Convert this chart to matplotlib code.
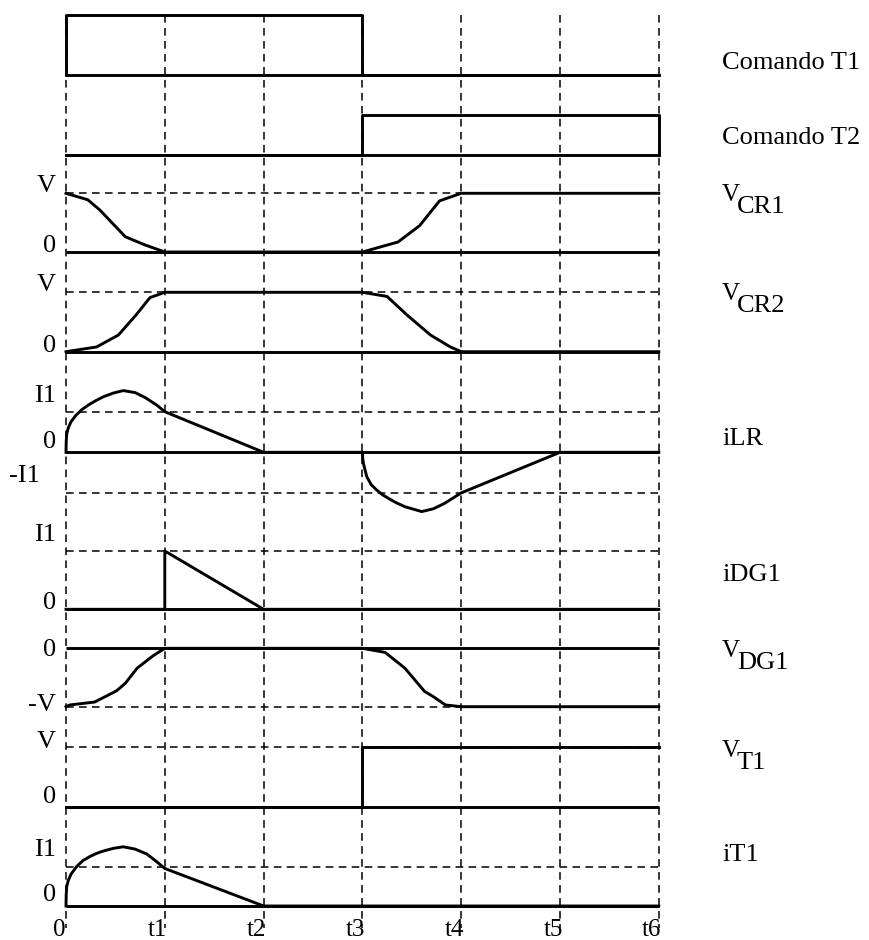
import numpy as np
import matplotlib.pyplot as plt

plt.rcParams['font.family'] = ['Liberation Serif', 'DejaVu Serif']

# time axis
t_ticks = [0, 1, 2, 3, 4, 5, 6]
t_labels = ['0', 't1', 't2', 't3', 't4', 't5', 't6']

# waveforms, normalised (1 = V or I1)
cmd1_t = [0, 0, 3, 3, 6]
cmd1_v = [0, 1, 1, 0, 0]

cmd2_t = [0, 3, 3, 6, 6]
cmd2_v = [0, 0, 1, 1, 0]

vcr1_t = [0, 0.22, 0.34, 0.6, 0.8, 1.0, 3.0, 3.36, 3.58, 3.78, 3.88, 4.0, 6.0]
vcr1_v = [1, 0.89, 0.72, 0.26, 0.12, 0, 0, 0.17, 0.45, 0.87, 0.93, 1, 1]

vcr2_t = [0, 0.31, 0.53, 0.71, 0.83, 0.85, 1.0, 3.0, 3.25, 3.45, 3.69, 3.89, 4.0, 6.0]
vcr2_v = [0, 0.08, 0.28, 0.62, 0.87, 0.91, 1, 1, 0.93, 0.62, 0.28, 0.08, 0, 0]

ilr_t = [0, 0.002, 0.007, 0.023, 0.05, 0.1, 0.16, 0.23, 0.3, 0.38, 0.48, 0.58,
         0.7, 0.8, 0.92, 1.0, 2.0, 3.0,
         3.003, 3.01, 3.044, 3.09, 3.145, 3.2, 3.26, 3.34, 3.43, 3.6, 3.72, 3.83, 4.0, 5.0, 6.0]
ilr_v = [0, 0.25, 0.45, 0.6, 0.75, 0.91, 1.05, 1.17, 1.27, 1.37, 1.46, 1.52,
         1.47, 1.35, 1.16, 1.0, 0, 0,
         -0.14, -0.27, -0.6, -0.8, -0.93, -1.04, -1.13, -1.24, -1.34, -1.46, -1.39, -1.26, -1.0, 0, 0]

idg1_t = [0, 1, 1, 2, 6]
idg1_v = [0, 0, 1, 0, 0]

vdg1_t = [0, 0.04, 0.29, 0.51, 0.6, 0.72, 0.88, 1.0, 3.0, 3.23, 3.43, 3.63, 3.72, 3.84, 4.0, 6.0]
vdg1_v = [-1, -0.97, -0.92, -0.73, -0.6, -0.34, -0.13, 0, 0, -0.07, -0.34, -0.74, -0.83, -0.97, -1, -1]

vt1_t = [0, 3, 3, 6]
vt1_v = [0, 0, 1, 1]

it1_t = [0, 0.002, 0.007, 0.023, 0.05, 0.108, 0.17, 0.243, 0.31, 0.377, 0.48, 0.58,
         0.7, 0.82, 0.92, 1.0, 2.0, 6.0]
it1_v = [0, 0.28, 0.5, 0.66, 0.82, 1.02, 1.17, 1.28, 1.36, 1.42, 1.49, 1.53,
         1.47, 1.34, 1.14, 0.97, 0, 0]

# (t, v, dashed reference levels, level labels)
traces = [
    (cmd1_t, cmd1_v, [], []),
    (cmd2_t, cmd2_v, [], []),
    (vcr1_t, vcr1_v, [1], ['V', '0']),
    (vcr2_t, vcr2_v, [1], ['V', '0']),
    (ilr_t, ilr_v, [1, -1], ['I1', '0', '-I1']),
    (idg1_t, idg1_v, [1], ['I1', '0']),
    (vdg1_t, vdg1_v, [-1], ['0', '-V']),
    (vt1_t, vt1_v, [1], ['V', '0']),
    (it1_t, it1_v, [1], ['I1', '0']),
]
names = ['Comando T1', 'Comando T2', ('V', 'CR1'), ('V', 'CR2'), 'iLR', 'iDG1',
         ('V', 'DG1'), ('V', 'T1'), 'iT1']

# layout in pixels (figure 869x940)
px_unit = 98.8
x0_px = 66
base_px = [75.3, 155, 252, 351.7, 452.3, 609.3, 648.3, 807.3, 906]
scale_px = [60.3, 40, 58.7, 59.4, 40.6, 58.3, 58.4, 60, 38.7]
label_levels = [[], [], [1, 0], [1, 0], [1, 0, -1], [1, 0], [0, -1], [1, 0], [1, 0]]
label_dy = [[], [], [7, 6], [7, 6], [16, 10, 17], [16, 6], [-2, 2], [5, 10], [17, 11]]
name_y = [63, 138, 195, 294, 439, 575, 651, 751, 855]

fig = plt.figure(figsize=(8.69, 9.40), dpi=100)
ax = fig.add_axes([0, 0, 1, 1])
ax.set_xlim(-x0_px / px_unit, (869 - x0_px) / px_unit)
ax.set_ylim(940, 0)
ax.axis('off')

dash = (0, (5, 3.5))
ax.vlines(t_ticks, 15, 928, colors='black', linestyles=dash, linewidth=1.1, zorder=1)

for i, (t, v, refs, labs) in enumerate(traces):
    b = base_px[i]
    s = scale_px[i]
    for r in refs:
        ax.hlines(b - s * r, 0, 6, colors='black', linestyles=dash, linewidth=1.1, zorder=1)
    ax.hlines(b, 0, 6, colors='black', linewidth=2.1, zorder=2)
    ax.plot(t, b - s * np.array(v), color='black', linewidth=2.1, zorder=3,
            solid_joinstyle='round')
    for lev, lab, dy in zip(label_levels[i], labs, label_dy[i]):
        xl = -0.1 if lab != '-I1' else -0.26
        ax.text(xl, b - s * lev - dy, lab, ha='right', va='center', fontsize=19)
    nm = names[i]
    xn = (722 - x0_px) / px_unit
    if isinstance(nm, tuple):
        ax.text(xn, name_y[i], nm[0], ha='left', va='center', fontsize=18)
        ax.text(xn + 15 / px_unit, name_y[i] + 12, nm[1], ha='left', va='center', fontsize=19)
    else:
        ax.text(xn, name_y[i], nm, ha='left', va='center', fontsize=19)

for tk, tl in zip(t_ticks, t_labels):
    ax.text(tk - 0.07, 930, tl, ha='center', va='center', fontsize=18)

fig.savefig('out.png', dpi=100)
